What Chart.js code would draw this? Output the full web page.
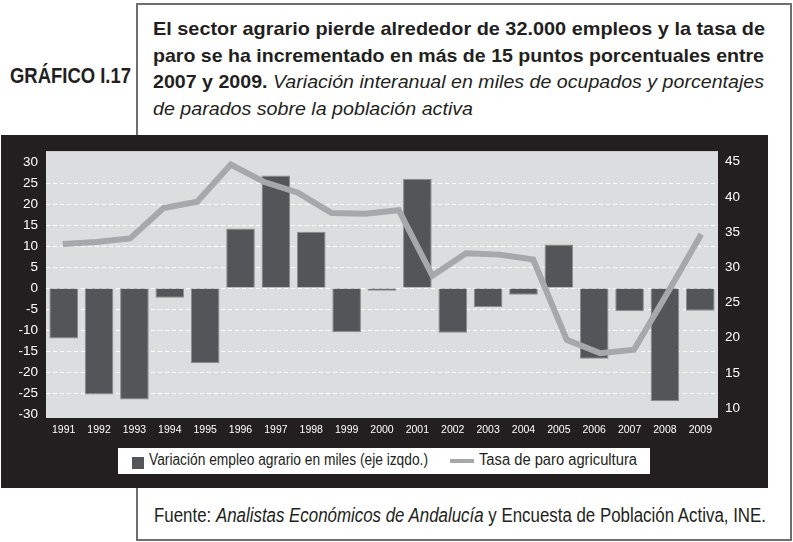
<!DOCTYPE html>
<html>
<head>
<meta charset="utf-8">
<script src="https://cdn.jsdelivr.net/npm/chart.js@4/dist/chart.umd.min.js"></script>
<style>
  html, body { margin: 0; padding: 0; background: #fff; }
  body { width: 793px; height: 542px; position: relative; overflow: hidden;
         font-family: "Liberation Sans", Arial, sans-serif; color: #231f20; }
  .txt { position: absolute; white-space: nowrap; line-height: 1; transform-origin: 0 0; }
  #frame { position: absolute; left: 136px; top: 3px; width: 656px; height: 538px;
           box-sizing: border-box; border: 2px solid #6f6f72; }
  #label { left: 10px; top: 64.7px; font-size: 22px; font-weight: bold; }
  .tl { left: 152.5px; font-size: 19px; font-weight: bold; }
  .tl i { font-weight: normal; }
  #band { position: absolute; left: 1px; top: 135px; width: 767px; height: 353px; background: #231f20; }
  #chart { position: absolute; left: 0; top: 0; }
  #legend { position: absolute; left: 117px; top: 313px; width: 532px; height: 26px; background: #fff; }
  #legend .txt { top: 4px; font-size: 16px; }
  .sq { position: absolute; left: 14px; top: 9px; width: 12px; height: 12px; background: #545558; }
  .ln { position: absolute; left: 332px; top: 11px; width: 24px; height: 4px; background: #a6a8ab; }
  #source { left: 154px; top: 504.8px; font-size: 20px; }
</style>
</head>
<body>
<div id="frame"></div>
<div id="label" class="txt">GRÁFICO I.17</div>
<div id="t1" class="txt tl" style="top:18.9px">El sector agrario pierde alrededor de 32.000 empleos y la tasa de</div>
<div id="t2" class="txt tl" style="top:45.6px">paro se ha incrementado en más de 15 puntos porcentuales entre</div>
<div id="t3" class="txt tl" style="top:72.2px">2007 y 2009. <i>Variación interanual en miles de ocupados y porcentajes</i></div>
<div id="t4" class="txt tl" style="top:98.9px"><i>de parados sobre la población activa</i></div>
<div id="band">
  <canvas id="chart" width="767" height="353"></canvas>
  <div id="legend">
    <div class="sq"></div><div id="lg1" class="txt" style="left:31px"></div>
    <div class="ln"></div><div id="lg2" class="txt" style="left:361px"></div>
  </div>
</div>
<div id="source" class="txt">Fuente: <i>Analistas Económicos de Andalucía</i> y Encuesta de Población Activa, INE.</div>

<script>
var FONT = '"Liberation Sans", Arial, sans-serif';

// DATA

var years = ['1991', '1992', '1993', '1994', '1995', '1996', '1997', '1998', '1999', '2000',
             '2001', '2002', '2003', '2004', '2005', '2006', '2007', '2008', '2009'];
var empleoVar = [-12, -25.3, -26.5, -2.3, -17.9, 14.2, 26.8, 13.4, -10.5, -0.6,
                 26.0, -10.6, -4.5, -1.6, 10.4, -16.8, -5.5, -26.9, -5.4];

// the line series is plotted with one more point than the bars
var lineYears = ['1990', '1991', '1992', '1993', '1994', '1995', '1996', '1997', '1998', '1999',
                 '2000', '2001', '2002', '2003', '2004', '2005', '2006', '2007', '2008', '2009'];
var tasaParo = [33.3, 33.6, 34.1, 38.4, 39.3, 44.6, 42.1, 40.6, 37.7, 37.6,
                38.1, 28.8, 32.0, 31.8, 31.1, 19.7, 17.8, 18.3, 26.4, 34.7];

var leftTicks = [-30, -25, -20, -15, -10, -5, 0, 5, 10, 15, 20, 25, 30];
var rightTicks = [10, 15, 20, 25, 30, 35, 40, 45];

var barLabel = 'Variación empleo agrario en miles (eje izqdo.)';
var lineLabel = 'Tasa de paro agricultura';

document.getElementById('lg1').textContent = barLabel;
document.getElementById('lg2').textContent = lineLabel;

// squeeze the text horizontally, the original uses a condensed face
function fitText(id, width) {
    var el = document.getElementById(id);
    var w = el.getBoundingClientRect().width;
    el.style.transform = 'scaleX(' + (width / w) + ')';
}
fitText('label', 121);
fitText('t1', 612);
fitText('t2', 611);
fitText('t3', 611);
fitText('t4', 320);
fitText('lg1', 279);
fitText('lg2', 158);
fitText('source', 612);

// plot background
var plotBg = {
    id: 'plotBg',
    beforeDraw: function (chart) {
        var a = chart.chartArea;
        var ctx = chart.ctx;
        ctx.save();
        ctx.fillStyle = '#dcdddf';
        ctx.fillRect(a.left, a.top, a.right - a.left, a.bottom - a.top);
        ctx.restore();
    }
};

function setTicks(list) {
    return function (scale) {
        scale.ticks = list.map(function (v) { return { value: v }; });
    };
}

var chart = new Chart(document.getElementById('chart'), {
    data: {
        labels: years,
        datasets: [{
            type: 'line',
            label: lineLabel,
            data: tasaParo,
            xAxisID: 'x2',
            yAxisID: 'y1',
            borderColor: '#a6a8ab',
            borderWidth: 6,
            pointRadius: 0,
            tension: 0,
            fill: false,
            order: 0
        }, {
            type: 'bar',
            label: barLabel,
            data: empleoVar,
            xAxisID: 'x',
            yAxisID: 'y',
            backgroundColor: '#545558',
            borderColor: '#8c8d90',
            borderWidth: 1,
            grouped: false,
            barPercentage: 0.81,
            categoryPercentage: 1,
            order: 1
        }]
    },
    options: {
        responsive: false,
        animation: false,
        layout: { padding: { top: 11, left: 0, right: 0, bottom: 0 } },
        plugins: { legend: { display: false }, tooltip: { enabled: false } },
        scales: {
            x: {
                type: 'category',
                offset: true,
                grid: { display: false, drawTicks: false },
                border: { display: false },
                ticks: { color: '#fff', font: { family: FONT, size: 10.5 }, padding: 6,
                         maxRotation: 0, autoSkip: false },
                afterFit: function (s) { s.height = 70; }
            },
            x2: {
                type: 'category',
                labels: lineYears,
                offset: true,
                display: false
            },
            y: {
                position: 'left',
                min: -30.9,
                max: 32.6,
                afterBuildTicks: setTicks(leftTicks),
                grid: {
                    drawTicks: false,
                    lineWidth: 1,
                    color: function (c) {
                        return (c.tick && Math.abs(c.tick.value) === 30) ? 'rgba(0,0,0,0)' : '#ffffff';
                    }
                },
                border: { display: false, dash: [4, 3] },
                ticks: { color: '#fff', font: { family: FONT, size: 13.5 }, padding: 8 },
                afterFit: function (s) { s.width = 45; }
            },
            y1: {
                position: 'right',
                min: 8.6,
                max: 46.5,
                afterBuildTicks: setTicks(rightTicks),
                grid: { display: false, drawTicks: false },
                border: { display: false },
                ticks: { color: '#fff', font: { family: FONT, size: 13.5 }, padding: 7 },
                afterFit: function (s) { s.width = 50; }
            }
        }
    },
    plugins: [plotBg]
});
</script>
</body>
</html>
